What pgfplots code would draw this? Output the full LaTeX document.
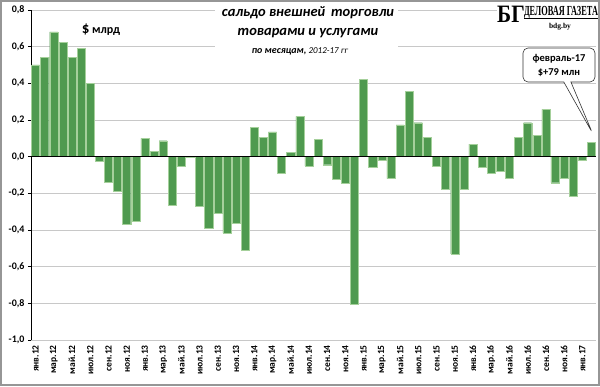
\documentclass[border=0pt]{standalone}
\usepackage{pgfplots}
\pgfplotsset{compat=1.18}
\usepackage{fontspec}
\setmainfont{Carlito}
\newfontfamily\serif{Liberation Serif}
\usetikzlibrary{shapes.callouts}
\definecolor{barg}{RGB}{79,154,79}
\definecolor{baredge}{RGB}{165,208,155}
\definecolor{gridc}{RGB}{200,200,200}
\definecolor{framec}{RGB}{150,150,150}
\begin{document}
\begin{tikzpicture}[x=1pt,y=1pt]
\useasboundingbox (0,0) rectangle (600,386);
\fill[white] (0,0) rectangle (600,386);
\begin{axis}[at={(31pt,46pt)}, anchor=south west, scale only axis,
  width=565pt, height=330pt,
  xmin=-0.5, xmax=61.5, ymin=-1, ymax=0.8,
  ytick={-1,-0.8,-0.6,-0.4,-0.2,0,0.2,0.4,0.6,0.8},
  ymajorgrids, major grid style={gridc, line width=0.8pt},
  separate axis lines,
  axis x line*=bottom, axis y line*=left,
  x axis line style={draw=none},
  y axis line style={black, line width=0.8pt, -},
  xtick={0,2,...,60},
  xticklabels={янв.12,мар.12,май.12,июл.12,сен.12,ноя.12,
               янв.13,мар.13,май.13,июл.13,сен.13,ноя.13,
               янв.14,мар.14,май.14,июл.14,сен.14,ноя.14,
               янв.15,мар.15,май.15,июл.15,сен.15,ноя.15,
               янв.16,мар.16,май.16,июл.16,сен.16,ноя.16,
               янв.17},
  xtick style={draw=none},
  ytick style={black, line width=0.6pt},
  tick align=outside, major tick length=3pt,
  x tick label style={rotate=90, anchor=east, inner sep=2pt, font=\bfseries\fontsize{9.5}{10}\selectfont},
  y tick label style={font=\bfseries\fontsize{10}{10}\selectfont},
  yticklabel style={/pgf/number format/.cd, fixed, fixed zerofill, precision=1, use comma, assume math mode=true},
]
\addplot[ybar, bar width=8.1pt, fill=barg, draw=baredge, line width=0.4pt] coordinates {
(0,0.50) (1,0.54) (2,0.68) (3,0.625) (4,0.54) (5,0.59) (6,0.40) (7,-0.025)
(8,-0.14) (9,-0.19) (10,-0.37) (11,-0.35) (12,0.10) (13,0.03) (14,0.087) (15,-0.265)
(16,-0.05) (17,-0.005) (18,-0.27) (19,-0.39) (20,-0.31) (21,-0.415) (22,-0.365) (23,-0.51)
(24,0.158) (25,0.104) (26,0.135) (27,-0.088) (28,0.022) (29,0.22) (30,-0.05) (31,0.093)
(32,-0.044) (33,-0.125) (34,-0.144) (35,-0.806) (36,0.42) (37,-0.058) (38,-0.018) (39,-0.12)
(40,0.173) (41,0.355) (42,0.185) (43,0.104) (44,-0.053) (45,-0.18) (46,-0.53) (47,-0.18)
(48,0.069) (49,-0.055) (50,-0.09) (51,-0.08) (52,-0.12) (53,0.104) (54,0.185) (55,0.116)
(56,0.258) (57,-0.142) (58,-0.12) (59,-0.214) (60,-0.02) (61,0.079)
};
\draw[black, line width=0.8pt] (axis cs:-0.5,0) -- (axis cs:61.5,0);
\coordinate (tip) at (axis cs:61.1,0.13);
\end{axis}
% title
\fill[white] (215,328) rectangle (398,382);
\node[font=\bfseries\itshape\fontsize{14.5}{16}\selectfont] at (308,373) {сальдо внешней\, торговли};
\node[font=\bfseries\itshape\fontsize{14.5}{16}\selectfont] at (308,353) {товарами и услугами};
\node[font=\bfseries\itshape\fontsize{10}{12}\selectfont] at (300,335) {по месяцам, {\mdseries\fontsize{9}{10}\selectfont 2012-17 гг}};
% unit
\node[font=\bfseries\fontsize{12}{12}\selectfont] at (101,356) {{\fontsize{15}{15}\selectfont\$} млрд};
% logo
\fill[white] (497,352) rectangle (598,384);
\node[inner sep=0pt] at (511,372) {\scalebox{0.85}[1]{\serif\bfseries\fontsize{25}{25}\selectfont БГ}};
\node[inner sep=0pt, anchor=base] at (561,370.5) {\resizebox{74pt}{!}{\serif\bfseries\fontsize{11.5}{12}\selectfont\scalebox{0.6}[1]{ДЕЛОВАЯ ГАЗЕТА}}};
\draw[black, line width=0.6pt] (524,368) -- (598,368);
\node[inner sep=0pt, anchor=base, font=\serif\bfseries\fontsize{7.5}{8}\selectfont] at (560,357) {bdg.by};
% callout
\node[rectangle callout, draw=black!80, fill=white, rounded corners=5pt, line width=0.6pt,
  align=center, font=\bfseries\fontsize{10.5}{14}\selectfont, inner sep=2pt,
  minimum width=72pt, minimum height=34pt, callout absolute pointer=(tip)]
  at (559,321) {февраль-17\\\$+79 млн};
% frame
\draw[framec, line width=2pt] (1,1) rectangle (599,385);
\end{tikzpicture}
\end{document}
